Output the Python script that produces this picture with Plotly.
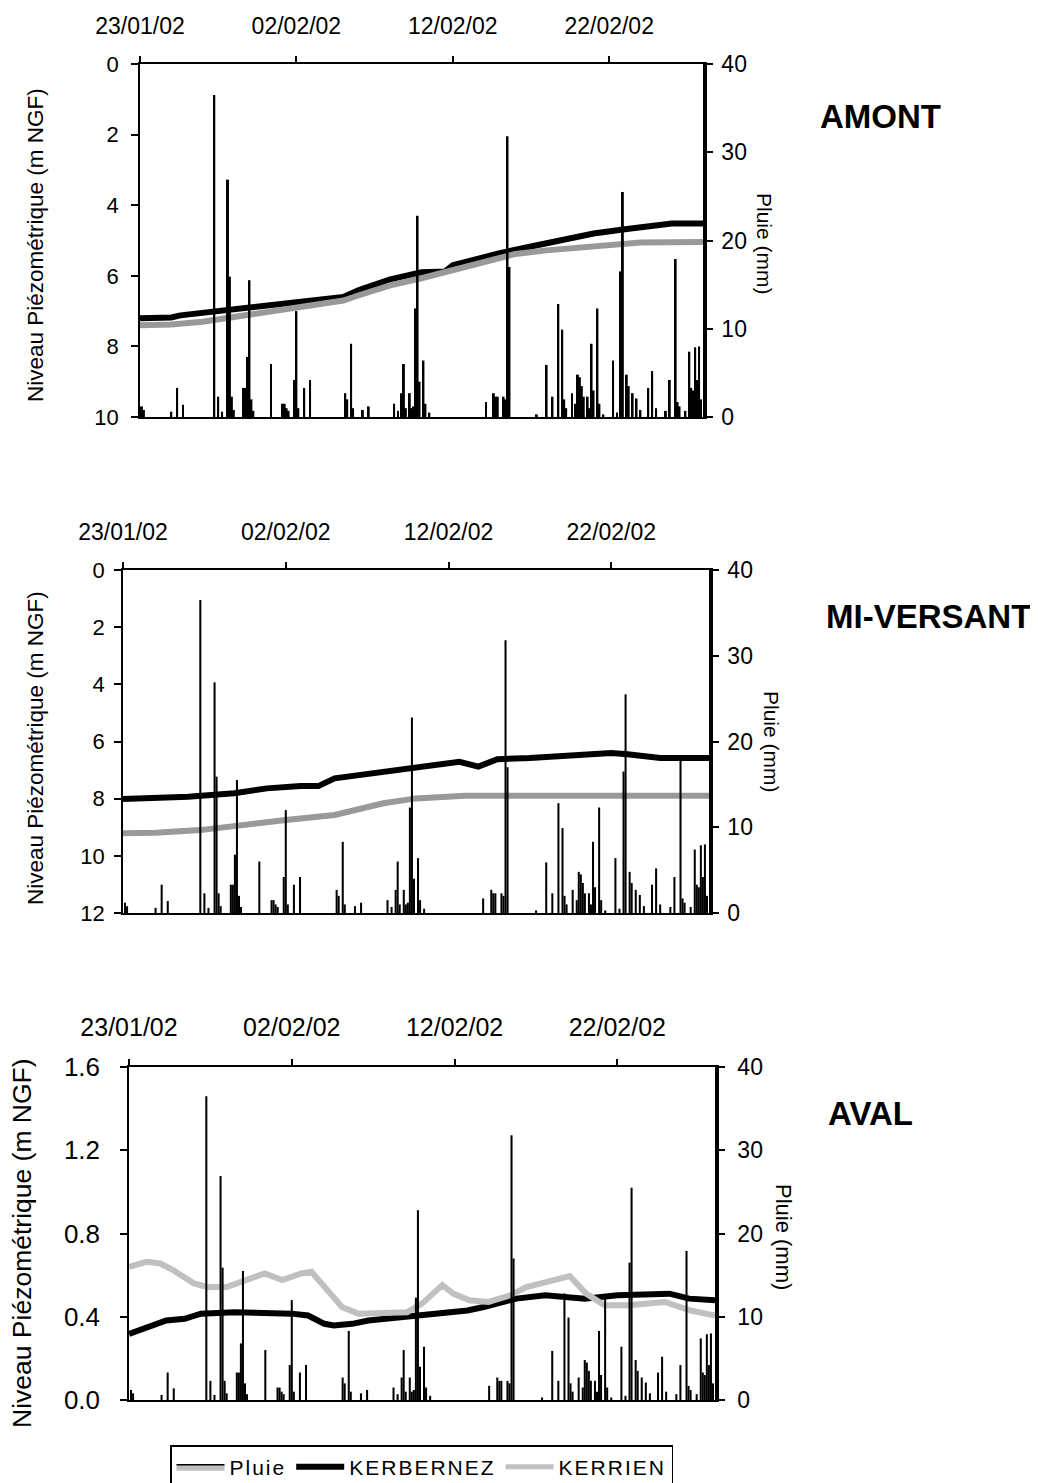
import plotly.graph_objects as go

# ---------------- DATA ----------------
rain_time = [
    "2002-01-23 03:00", "2002-01-23 06:00", "2002-01-25 00:00", "2002-01-25 09:00", "2002-01-25 18:00",
    "2002-01-27 18:00", "2002-01-28 00:00", "2002-01-28 06:00", "2002-01-28 15:00", "2002-01-28 18:00",
    "2002-01-28 21:00", "2002-01-29 00:00", "2002-01-29 15:00", "2002-01-29 18:00", "2002-01-29 21:00",
    "2002-01-30 00:00", "2002-01-30 03:00", "2002-01-30 06:00", "2002-01-31 09:00", "2002-02-01 03:00",
    "2002-02-01 06:00", "2002-02-01 09:00", "2002-02-01 12:00", "2002-02-01 21:00", "2002-02-02 00:00",
    "2002-02-02 03:00", "2002-02-02 12:00", "2002-02-02 21:00", "2002-02-05 03:00", "2002-02-05 06:00",
    "2002-02-05 12:00", "2002-02-05 15:00", "2002-02-06 06:00", "2002-02-06 15:00", "2002-02-08 06:00",
    "2002-02-08 12:00", "2002-02-08 18:00", "2002-02-08 21:00", "2002-02-09 00:00", "2002-02-09 06:00",
    "2002-02-09 09:00", "2002-02-09 12:00", "2002-02-09 15:00", "2002-02-09 18:00", "2002-02-09 21:00",
    "2002-02-10 03:00", "2002-02-10 06:00", "2002-02-10 12:00", "2002-02-14 03:00", "2002-02-14 15:00",
    "2002-02-14 18:00", "2002-02-14 21:00", "2002-02-15 06:00", "2002-02-15 09:00", "2002-02-15 12:00",
    "2002-02-15 15:00", "2002-02-17 09:00", "2002-02-18 00:00", "2002-02-18 09:00", "2002-02-18 18:00",
    "2002-02-19 00:00", "2002-02-19 03:00", "2002-02-19 06:00", "2002-02-19 15:00", "2002-02-19 21:00",
    "2002-02-20 00:00", "2002-02-20 03:00", "2002-02-20 06:00", "2002-02-20 09:00", "2002-02-20 15:00",
    "2002-02-20 18:00", "2002-02-20 21:00", "2002-02-21 00:00", "2002-02-21 06:00", "2002-02-21 09:00",
    "2002-02-21 15:00", "2002-02-22 06:00", "2002-02-22 12:00", "2002-02-22 18:00", "2002-02-22 21:00",
    "2002-02-23 03:00", "2002-02-23 06:00", "2002-02-23 12:00", "2002-02-23 18:00", "2002-02-24 00:00",
    "2002-02-24 12:00", "2002-02-24 18:00", "2002-02-25 00:00", "2002-02-25 15:00", "2002-02-25 21:00",
    "2002-02-26 06:00", "2002-02-26 09:00", "2002-02-26 12:00", "2002-02-26 21:00", "2002-02-27 03:00",
    "2002-02-27 06:00", "2002-02-27 09:00", "2002-02-27 12:00", "2002-02-27 15:00", "2002-02-27 18:00",
    "2002-02-27 21:00",
]
rain_mm = [
    1.2, 0.8, 0.6, 3.3, 1.4,
    36.5, 2.3, 0.6, 26.9, 15.9,
    2.3, 0.8, 3.3, 3.3, 6.8,
    15.5, 2.0, 0.7, 6.0, 1.5,
    1.5, 1.0, 0.7, 4.2, 12.0,
    1.0, 3.3, 4.2, 2.7, 2.0,
    8.3, 1.0, 0.8, 1.2, 1.5,
    0.7, 2.7, 6.0, 1.0, 2.7,
    1.0, 1.2, 12.3, 22.8, 4.0,
    6.4, 1.5, 0.5, 1.7, 2.7,
    2.3, 2.3, 2.3, 2.0, 31.8,
    17.0, 0.3, 5.9, 2.3, 12.8,
    9.9, 2.0, 1.0, 2.7, 1.5,
    4.8, 4.5, 3.5, 2.3, 2.3,
    1.0, 8.3, 3.0, 12.3, 1.5,
    0.3, 6.4, 0.5, 16.5, 25.5,
    4.8, 3.5, 2.7, 2.1, 0.8,
    3.3, 5.2, 1.0, 0.7, 4.2,
    17.9, 1.7, 1.2, 0.7, 7.4,
    3.3, 3.0, 7.9, 4.2, 8.0,
    2.0,
]

# AMONT
amont_kerb_t = ["2002-01-23", "2002-01-25", "2002-01-25 14:00", "2002-01-27", "2002-01-29", "2002-01-31",
                "2002-02-02", "2002-02-04", "2002-02-05", "2002-02-06", "2002-02-08", "2002-02-10",
                "2002-02-11 12:00", "2002-02-12", "2002-02-13", "2002-02-15", "2002-02-17", "2002-02-19",
                "2002-02-21", "2002-02-23", "2002-02-25", "2002-02-26", "2002-02-28"]
amont_kerb_v = [7.2, 7.18, 7.12, 7.05, 6.95, 6.85, 6.73, 6.65, 6.6, 6.4, 6.1, 5.9,
                5.88, 5.7, 5.58, 5.36, 5.17, 5.0, 4.8, 4.68, 4.57, 4.52, 4.52]
amont_kerr_t = ["2002-01-23", "2002-01-25", "2002-01-27", "2002-01-29", "2002-01-31", "2002-02-02",
                "2002-02-04", "2002-02-05", "2002-02-06", "2002-02-08", "2002-02-10", "2002-02-12",
                "2002-02-14", "2002-02-16", "2002-02-18", "2002-02-20", "2002-02-22", "2002-02-24",
                "2002-02-28"]
amont_kerr_v = [7.4, 7.38, 7.3, 7.16, 7.05, 6.92, 6.78, 6.7, 6.55, 6.27, 6.07, 5.84,
                5.57, 5.38, 5.28, 5.2, 5.12, 5.06, 5.04]

# MI-VERSANT
mi_kerb_t = ["2002-01-23", "2002-01-27", "2002-01-29 20:00", "2002-01-31 20:00", "2002-02-02 22:00",
             "2002-02-04", "2002-02-05", "2002-02-07", "2002-02-09", "2002-02-11", "2002-02-12 16:00",
             "2002-02-13 20:00", "2002-02-15", "2002-02-17", "2002-02-19", "2002-02-21", "2002-02-22",
             "2002-02-23", "2002-02-24", "2002-02-25", "2002-02-28"]
mi_kerb_v = [8.01, 7.93, 7.81, 7.64, 7.56, 7.56, 7.29, 7.14, 7.02, 6.85, 6.71,
             6.88, 6.62, 6.58, 6.5, 6.42, 6.4, 6.45, 6.5, 6.58, 6.58]
mi_kerr_t = ["2002-01-23", "2002-01-25", "2002-01-27 18:00", "2002-01-30 05:00", "2002-02-02",
             "2002-02-05", "2002-02-06", "2002-02-08", "2002-02-10", "2002-02-12", "2002-02-13",
             "2002-02-28"]
mi_kerr_v = [9.21, 9.19, 9.1, 8.92, 8.75, 8.57, 8.45, 8.16, 7.99, 7.91, 7.9, 7.9]

# AVAL
aval_kerb_t = ["2002-01-23", "2002-01-24 07:00", "2002-01-25 07:00", "2002-01-26 10:00", "2002-01-27 10:00",
               "2002-01-29 11:00", "2002-01-31 12:00", "2002-02-02", "2002-02-03", "2002-02-04",
               "2002-02-04 14:00", "2002-02-05 17:00", "2002-02-06 17:00", "2002-02-08 17:00",
               "2002-02-10 19:00", "2002-02-12 19:00", "2002-02-13 19:00", "2002-02-15 19:00",
               "2002-02-17 14:00", "2002-02-20", "2002-02-22", "2002-02-25 05:00", "2002-02-26 10:00",
               "2002-02-28"]
aval_kerb_v = [0.318, 0.358, 0.382, 0.39, 0.415, 0.422, 0.422, 0.415, 0.406, 0.366,
               0.358, 0.366, 0.382, 0.398, 0.415, 0.43, 0.447, 0.487, 0.503, 0.487,
               0.503, 0.511, 0.487, 0.479]
aval_kerr_t = ["2002-01-23", "2002-01-24 02:00", "2002-01-24 22:00", "2002-01-25 17:00", "2002-01-27",
               "2002-01-27 19:00", "2002-01-29", "2002-01-30 07:00", "2002-01-31 08:00", "2002-02-01 10:00",
               "2002-02-02 14:00", "2002-02-03 05:00", "2002-02-04", "2002-02-05 02:00", "2002-02-06 02:00",
               "2002-02-07 17:00", "2002-02-09 02:00", "2002-02-10", "2002-02-11 06:00", "2002-02-11 22:00",
               "2002-02-12 22:00", "2002-02-14 02:00", "2002-02-15 10:00", "2002-02-16 10:00",
               "2002-02-17 14:00", "2002-02-19 02:00", "2002-02-20 02:00", "2002-02-21 05:00",
               "2002-02-22 17:00", "2002-02-24 22:00", "2002-02-26 12:00", "2002-02-28"]
aval_kerr_v = [0.64, 0.664, 0.656, 0.624, 0.56, 0.543, 0.543, 0.576, 0.608, 0.576,
               0.608, 0.616, 0.543, 0.447, 0.415, 0.415, 0.422, 0.463, 0.552, 0.511,
               0.479, 0.471, 0.503, 0.543, 0.567, 0.595, 0.511, 0.455, 0.455, 0.471,
               0.43, 0.406]

panel_titles = ["AMONT", "MI-VERSANT", "AVAL"]
left_title = "Niveau Piézométrique (m NGF)"
right_title = "Pluie (mm)"
series_names = ["Pluie", "KERBERNEZ", "KERRIEN"]

# ---------------- FIGURE ----------------
OFF = 8                      # default page margin around the plotly div
W, H = 1038 - OFF, 1483 - OFF
FONT = "Liberation Sans, Arial, sans-serif"
BAR_W = 3 * 3600 * 1000


def px_x(v):
    return (v - OFF) / W


def px_y(v):
    return 1 - (v - OFF) / H


def spaced(name):
    return f'<span style="letter-spacing:2px">{name}</span>'


panels = [
    dict(xd=(140, 703), yd=(64, 417), yrange=[10, 0], dtick=2, fmt=None,
         kerb=(amont_kerb_t, amont_kerb_v), kerr=(amont_kerr_t, amont_kerr_v), kerr_col="#999999",
         xfont=23, lfont=22, rfont=23, lstand=8, rstand=4, xstand=13),
    dict(xd=(123, 709), yd=(570, 913), yrange=[12, 0], dtick=2, fmt=None,
         kerb=(mi_kerb_t, mi_kerb_v), kerr=(mi_kerr_t, mi_kerr_v), kerr_col="#999999",
         xfont=23, lfont=22, rfont=23, lstand=5, rstand=4, xstand=13),
    dict(xd=(129, 715), yd=(1067, 1400), yrange=[0, 1.6], dtick=0.4, fmt=".1f",
         kerb=(aval_kerb_t, aval_kerb_v), kerr=(aval_kerr_t, aval_kerr_v), kerr_col="#c0c0c0",
         xfont=25, lfont=26, rfont=23, lstand=15, rstand=8, xstand=13),
]

fig = go.Figure()
layout = {}
for i, p in enumerate(panels):
    xa = "x" if i == 0 else f"x{i + 1}"
    yl = "y" if i == 0 else f"y{2 * i + 1}"
    yr = f"y{2 * i + 2}"
    xkey = "xaxis" if i == 0 else f"xaxis{i + 1}"
    ylkey = "yaxis" if i == 0 else f"yaxis{2 * i + 1}"
    yrkey = f"yaxis{2 * i + 2}"

    fig.add_trace(go.Scatter(x=p["kerb"][0], y=p["kerb"][1], mode="lines", name=spaced(series_names[1]),
                             line=dict(color="black", width=6), xaxis=xa, yaxis=yl,
                             showlegend=(i == 2), legendrank=2))
    fig.add_trace(go.Scatter(x=p["kerr"][0], y=p["kerr"][1], mode="lines", name=spaced(series_names[2]),
                             line=dict(color=p["kerr_col"], width=6), xaxis=xa, yaxis=yl,
                             showlegend=False, legendrank=3))
    fig.add_trace(go.Bar(x=rain_time, y=rain_mm, width=BAR_W, name=spaced(series_names[0]),
                         marker=dict(color="black", line=dict(width=0)), xaxis=xa, yaxis=yr,
                         showlegend=False))

    layout[xkey] = dict(domain=[px_x(p["xd"][0]), px_x(p["xd"][1])], anchor=yl, side="top",
                        type="date", range=["2002-01-23", "2002-02-28"],
                        tick0="2002-01-23", dtick=10 * 86400000, tickformat="%d/%m/%y",
                        ticks="outside", ticklen=6, tickcolor="black", tickwidth=1.5,
                        showline=True, linecolor="black", linewidth=1.5, mirror=True,
                        showgrid=False, zeroline=False, ticklabelstandoff=p["xstand"],
                        tickfont=dict(size=p["xfont"], color="black", family=FONT))
    layout[ylkey] = dict(domain=[px_y(p["yd"][1]), px_y(p["yd"][0])], anchor=xa,
                         range=p["yrange"], dtick=p["dtick"], tick0=0, tickformat=p["fmt"],
                         ticks="outside", ticklen=7, tickcolor="black", tickwidth=1.5,
                         showline=True, linecolor="black", linewidth=1.5,
                         showgrid=False, zeroline=False, ticklabelstandoff=p["lstand"],
                         tickfont=dict(size=p["lfont"], color="black", family=FONT))
    layout[yrkey] = dict(overlaying=yl, side="right", anchor=xa, range=[0, 40], dtick=10,
                         ticks="outside", ticklen=6, tickcolor="black", tickwidth=1.5,
                         showline=True, linecolor="black", linewidth=3.5,
                         showgrid=False, zeroline=False, ticklabelstandoff=p["rstand"],
                         tickfont=dict(size=p["rfont"], color="black", family=FONT))

# legend-only entries
fig.add_trace(go.Scatter(x=[None], y=[None], mode="lines", fill="toself", name=spaced(series_names[0]),
                         xaxis="x3", yaxis="y5", fillcolor="#c0c0c0",
                         line=dict(color="black", width=1.5), showlegend=True, legendrank=1))
fig.add_trace(go.Scatter(x=[None], y=[None], mode="lines", name=spaced(series_names[2]), xaxis="x3",
                         yaxis="y5", line=dict(color="#c0c0c0", width=5), showlegend=True,
                         legendrank=3))

annotations = []
left_pos = [(35, 245, 22.5), (35, 748, 22.5), (22, 1243, 26.5)]
right_pos = [(765, 244, 21), (771, 742, 21), (784, 1237, 22)]
title_pos = [(880, 117), (928, 617), (870, 1113)]
for i in range(3):
    lx, ly, ls = left_pos[i]
    annotations.append(dict(x=px_x(lx), y=px_y(ly), xref="paper", yref="paper", text=left_title,
                            textangle=-90, showarrow=False, xanchor="center", yanchor="middle",
                            font=dict(size=ls, family=FONT, color="black")))
    rx, ry, rs = right_pos[i]
    annotations.append(dict(x=px_x(rx), y=px_y(ry), xref="paper", yref="paper", text=right_title,
                            textangle=90, showarrow=False, xanchor="center", yanchor="middle",
                            font=dict(size=rs, family=FONT, color="black")))
    tx, ty = title_pos[i]
    annotations.append(dict(x=px_x(tx), y=px_y(ty), xref="paper", yref="paper",
                            text=f"<b>{panel_titles[i]}</b>", showarrow=False,
                            xanchor="center", yanchor="middle",
                            font=dict(size=33, family=FONT, color="black")))

fig.update_layout(
    width=W, height=H,
    margin=dict(l=0, r=0, t=0, b=0, autoexpand=False),
    paper_bgcolor="white", plot_bgcolor="white",
    barmode="overlay",
    showlegend=True,
    legend=dict(orientation="h", x=px_x(170), y=-6 / H, xanchor="left", yanchor="bottom",
                bordercolor="black", borderwidth=1.5, bgcolor="white",
                font=dict(size=21, family=FONT, color="black"), itemwidth=48,
                traceorder="normal", tracegroupgap=0),
    annotations=annotations,
    **layout,
)

fig.write_html("out.html")
